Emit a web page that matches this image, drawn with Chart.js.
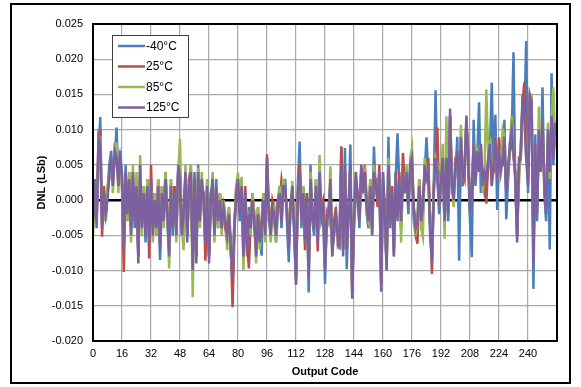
<!DOCTYPE html>
<html><head><meta charset="utf-8">
<script src="https://cdn.jsdelivr.net/npm/chart.js@4"></script>
<style>html,body{margin:0;padding:0;background:#fff;}#wrap{width:581px;height:387px;}</style>
</head><body><div id="wrap"><canvas id="c" width="581" height="387"></canvas></div>
<script>
const seriesNames = ['-40°C','25°C','85°C','125°C'];
const seriesColors = ['#4a7ebb','#be4b48','#98b954','#7d60a0'];
const yTicks = [-0.020,-0.015,-0.010,-0.005,0.000,0.005,0.010,0.015,0.020,0.025];
const xTicks = [0,16,32,48,64,80,96,112,128,144,160,176,192,208,224,240];

const dnlM40 = [
-0.004,0.003,-0.003,0.006,0.0118,-0.003,0.000,-0.003,0.001,0.005,0.007,0.003,0.006,0.0103,0.003,0.006,
0.004,-0.006,0.005,-0.003,0.002,-0.004,0.003,-0.004,0.003,-0.008,0.004,-0.003,0.002,-0.006,0.001,-0.005,
0.002,-0.004,0.001,-0.005,0.001,-0.0085,0.000,-0.002,0.002,-0.003,-0.007,0.001,-0.005,0.002,-0.004,0.004,
0.004,-0.004,-0.003,0.003,-0.005,0.003,0.003,-0.009,0.004,-0.008,0.005,-0.002,0.002,0.001,-0.005,0.003,
-0.008,0.001,0.002,-0.004,0.003,-0.004,0.001,-0.003,-0.002,-0.004,-0.004,-0.003,-0.006,-0.012,-0.003,0.000,
0.002,-0.003,0.003,-0.007,0.000,-0.008,-0.001,-0.003,0.001,-0.004,-0.007,-0.003,-0.005,-0.0079,0.001,-0.004,
0.005,-0.003,-0.004,0.000,-0.003,-0.006,0.000,0.002,-0.004,0.001,0.003,-0.003,-0.0088,0.000,0.001,-0.005,
-0.011,0.002,0.0083,-0.004,0.002,-0.005,0.001,-0.0131,0.005,-0.003,-0.005,0.003,-0.005,0.003,-0.003,-0.002,
-0.0119,-0.002,-0.003,0.002,-0.007,-0.005,-0.003,-0.004,-0.007,0.0076,-0.007,0.0074,-0.0098,-0.001,0.0079,-0.013,
-0.004,0.003,0.001,-0.004,0.004,0.003,0.003,-0.002,-0.004,0.001,-0.004,0.0076,0.001,0.001,0.003,-0.012,
0.003,-0.003,-0.009,0.009,-0.004,0.002,-0.007,0.003,0.0095,0.002,-0.004,0.003,0.002,0.003,-0.002,0.004,
0.005,-0.003,-0.005,-0.004,0.001,-0.002,-0.002,0.004,0.0089,0.003,-0.005,-0.008,0.002,0.0156,0.003,-0.002,
0.002,0.005,-0.004,0.005,-0.003,0.012,0.001,0.001,0.004,0.009,-0.0086,0.008,0.002,0.005,0.011,0.005,
-0.003,-0.0081,0.0114,0.002,0.006,0.0139,0.001,0.003,0.001,0.002,0.005,0.007,0.0167,0.004,0.0121,-0.0014,
0.006,0.005,0.005,0.0114,-0.0027,0.003,0.007,0.009,0.021,0.002,-0.005,0.004,0.006,0.014,0.011,0.0226,
0.001,0.014,0.013,-0.0126,0.0093,-0.003,0.009,0.005,0.016,0.001,-0.003,0.009,-0.007,0.018,0.005,0.010];

const dnl25 = [
-0.002,0.001,-0.003,0.008,0.010,-0.0052,0.002,-0.001,0.001,0.003,0.005,0.003,0.006,0.007,0.003,0.006,
0.002,-0.0102,0.003,-0.001,0.004,-0.004,0.003,-0.002,0.001,-0.008,0.004,-0.003,0.000,-0.004,0.003,-0.0083,
0.005,-0.004,0.001,-0.003,0.003,-0.006,0.002,-0.002,0.004,-0.001,-0.007,0.003,-0.003,0.002,-0.004,0.004,
0.002,-0.004,-0.001,0.003,-0.005,0.003,0.0048,-0.009,0.002,-0.008,0.003,-0.002,0.002,0.001,-0.0086,0.001,
-0.008,0.001,0.002,-0.004,0.001,-0.002,0.001,-0.003,0.000,-0.004,-0.006,-0.001,-0.006,-0.0152,-0.005,0.002,
0.002,-0.001,0.001,-0.007,0.002,-0.006,-0.0097,-0.003,0.001,-0.002,-0.007,-0.001,-0.005,-0.003,0.001,-0.004,
0.0065,-0.001,-0.004,0.000,-0.001,-0.004,0.000,0.000,0.0029,0.001,0.001,-0.001,-0.006,0.000,0.001,-0.003,
-0.011,0.000,0.005,-0.002,0.000,-0.0071,0.001,-0.010,0.002,-0.001,-0.003,0.001,-0.0073,0.003,-0.001,0.000,
-0.009,-0.002,-0.001,0.002,-0.007,-0.003,-0.001,-0.006,-0.005,0.0076,-0.007,0.004,-0.006,-0.001,0.004,-0.013,
-0.002,0.003,0.001,-0.002,0.004,0.001,0.005,0.000,-0.002,0.003,-0.004,0.003,0.003,-0.001,0.005,-0.012,
0.003,-0.001,-0.009,0.004,-0.002,0.002,-0.007,0.003,-0.002,0.004,-0.002,0.0067,0.002,0.003,0.000,0.004,
0.005,-0.001,-0.003,-0.0062,0.003,-0.002,0.000,0.004,0.004,0.006,-0.003,-0.0105,0.002,0.005,0.0103,0.000,
0.004,0.005,-0.002,0.005,-0.001,0.012,0.003,0.001,0.006,0.006,0.003,0.008,0.004,0.003,0.011,0.007,
-0.001,0.002,0.007,0.004,0.006,0.005,0.007,0.003,0.003,-0.0005,0.005,0.007,0.003,0.004,0.008,0.004,
0.0089,0.005,0.005,0.008,0.002,0.005,0.007,0.009,0.006,0.004,-0.005,0.006,0.006,0.014,0.0167,0.007,
0.003,0.014,0.013,-0.008,0.007,-0.001,0.009,0.005,0.010,0.003,-0.001,0.009,0.005,0.011,0.007,0.010];

const dnl85 = [
-0.005,0.001,-0.002,0.007,0.009,-0.003,0.000,-0.003,0.002,0.003,0.006,0.001,0.008,0.008,0.001,0.006,
0.002,-0.006,0.003,-0.003,0.004,-0.006,0.005,-0.002,0.004,-0.007,0.0064,-0.005,0.002,-0.004,0.003,-0.005,
0.002,-0.006,0.001,-0.005,0.003,-0.006,0.002,-0.004,0.004,-0.001,-0.0097,0.003,-0.003,0.000,-0.006,0.004,
0.0087,-0.004,-0.0071,0.005,-0.005,0.001,0.005,-0.0138,0.002,-0.007,0.0046,-0.004,0.004,-0.001,-0.005,0.003,
-0.007,-0.001,0.004,-0.006,0.001,-0.004,0.001,-0.005,0.000,-0.002,-0.0071,-0.001,-0.008,-0.010,-0.003,0.002,
0.0039,-0.001,0.0033,-0.010,0.001,-0.006,-0.003,-0.005,0.001,-0.002,-0.009,-0.001,-0.007,-0.004,0.001,-0.006,
0.005,-0.001,-0.006,-0.002,-0.001,-0.006,-0.002,0.002,-0.002,0.003,0.001,-0.001,-0.006,-0.002,0.0027,-0.004,
-0.012,0.002,0.003,-0.003,0.002,-0.006,-0.0036,-0.010,0.004,-0.001,-0.004,0.003,-0.005,0.0064,-0.002,-0.002,
-0.009,-0.004,-0.002,0.0048,-0.008,-0.004,-0.003,-0.005,-0.006,0.004,-0.007,0.004,-0.007,-0.003,0.004,-0.012,
-0.003,0.004,-0.001,-0.003,0.005,0.003,0.004,-0.002,-0.003,0.003,-0.005,0.005,0.001,0.001,0.004,-0.011,
0.004,-0.003,-0.010,0.006,-0.002,0.001,-0.008,0.004,-0.002,0.003,-0.006,0.004,0.002,0.005,-0.001,0.006,
0.0074,-0.002,-0.005,-0.002,0.003,-0.004,-0.0052,0.006,0.004,0.004,-0.003,-0.009,0.001,0.006,0.005,-0.001,
0.004,0.008,-0.0055,0.0119,-0.002,0.012,0.002,-0.001,0.005,0.007,0.002,0.0107,0.003,0.004,0.011,0.006,
-0.001,0.002,0.008,0.003,0.007,0.006,0.008,0.001,0.004,0.0157,0.007,0.008,0.002,0.006,0.009,0.003,
0.007,0.005,0.010,0.009,0.002,0.003,0.008,0.0119,0.007,0.003,-0.004,0.002,0.008,0.013,0.012,0.006,
0.005,0.013,0.014,-0.006,0.008,-0.001,0.0133,0.004,0.011,0.003,-0.001,0.011,0.003,0.012,0.016,0.008];

const dnl125 = [
-0.003,0.002,-0.004,0.009,0.008,-0.004,0.001,-0.002,0.000,0.004,0.006,0.002,0.007,0.006,0.002,0.007,
0.003,-0.007,0.004,-0.002,0.003,-0.005,0.004,-0.003,0.002,-0.009,0.005,-0.004,0.001,-0.005,0.002,-0.006,
0.003,-0.005,0.000,-0.004,0.002,-0.007,0.001,-0.003,0.003,-0.002,-0.008,0.002,-0.004,0.001,-0.005,0.005,
0.003,-0.005,-0.002,0.004,-0.006,0.002,0.004,-0.010,0.003,-0.009,0.004,-0.003,0.003,0.000,-0.006,0.002,
-0.009,0.000,0.003,-0.005,0.002,-0.003,0.000,-0.004,-0.001,-0.003,-0.005,-0.002,-0.007,-0.011,-0.004,0.001,
0.003,-0.002,0.002,-0.008,0.001,-0.007,-0.002,-0.004,0.000,-0.003,-0.008,-0.002,-0.006,-0.004,0.000,-0.005,
0.006,-0.002,-0.005,-0.001,-0.002,-0.005,-0.001,0.001,-0.003,0.002,0.002,-0.002,-0.007,-0.001,0.002,-0.004,
-0.012,0.001,0.004,-0.003,0.001,-0.006,0.000,-0.011,0.003,-0.002,-0.004,0.002,-0.006,0.004,-0.002,-0.001,
-0.010,-0.003,-0.002,0.003,-0.008,-0.004,-0.002,-0.005,-0.006,0.005,-0.008,0.005,-0.007,-0.002,0.005,-0.014,
-0.003,0.004,0.000,-0.003,0.005,0.002,0.004,-0.001,-0.003,0.002,-0.005,0.004,0.002,0.000,0.004,-0.013,
0.004,-0.002,-0.010,0.005,-0.003,0.001,-0.008,0.004,-0.003,0.003,-0.003,0.004,0.001,0.004,-0.001,0.005,
0.006,-0.002,-0.004,-0.003,0.002,-0.003,-0.001,0.005,0.003,0.004,-0.004,-0.009,0.001,0.006,0.004,-0.001,
0.003,0.006,-0.003,0.006,-0.002,0.013,0.002,0.000,0.005,0.007,0.002,0.009,0.003,0.004,0.012,0.006,
-0.002,0.001,0.008,0.003,0.007,0.004,0.008,0.002,0.004,0.003,0.006,0.008,0.002,0.005,0.009,0.003,
0.007,0.004,0.006,0.009,0.001,0.004,0.008,0.010,0.007,0.003,-0.006,0.005,0.007,0.015,0.012,0.006,
0.002,0.015,0.014,-0.009,0.008,-0.002,0.010,0.004,0.011,0.002,-0.002,0.010,0.004,0.012,0.006,0.011];

const seriesValues = [dnlM40, dnl25, dnl85, dnl125];
const codes = dnl125.map((_, i) => i);

const FONT = "'Liberation Sans', Arial, sans-serif";

const framePlugin = {
  id: 'frame',
  afterDraw(chart) {
    const ctx = chart.ctx, a = chart.chartArea;
    ctx.save();
    ctx.strokeStyle = '#000';
    ctx.lineWidth = 2;
    ctx.strokeRect(a.left, a.top, a.right - a.left, a.bottom - a.top);
    ctx.strokeRect(11, 4, 559, 379);
    // legend
    const lx = 112, ly = 35, lw = 76, lh = 82;
    ctx.fillStyle = '#fff';
    ctx.fillRect(lx, ly, lw, lh);
    ctx.strokeStyle = '#404040';
    ctx.lineWidth = 1;
    ctx.strokeRect(lx + 0.5, ly + 0.5, lw, lh);
    ctx.font = '12px ' + FONT;
    ctx.textBaseline = 'middle';
    chart.data.datasets.forEach((ds, i) => {
      const y = ly + 11 + i * 20.5;
      ctx.strokeStyle = ds.borderColor;
      ctx.lineWidth = 2.5;
      ctx.beginPath();
      ctx.moveTo(lx + 6, y);
      ctx.lineTo(lx + 33, y);
      ctx.stroke();
      ctx.fillStyle = '#000';
      ctx.fillText(ds.label, lx + 34, y + 0.5);
    });
    ctx.restore();
  }
};

new Chart(document.getElementById('c'), {
  type: 'line',
  data: {
    datasets: seriesNames.map((name, s) => ({
      label: name,
      data: codes.map((c, i) => ({x: c, y: seriesValues[s][i]})),
      borderColor: seriesColors[s],
      backgroundColor: seriesColors[s],
      borderWidth: 2.5,
      pointRadius: 0,
      tension: 0,
      fill: false,
      order: 4 - s
    }))
  },
  options: {
    responsive: false,
    animation: false,
    devicePixelRatio: 1,
    layout: {padding: {left: 0, top: 24, right: 24, bottom: 0}},
    plugins: {legend: {display: false}, tooltip: {enabled: false}},
    scales: {
      x: {
        type: 'linear', min: 0, max: 256,
        afterFit: s => { s.height = 46; },
        afterBuildTicks: s => { s.ticks = xTicks.concat([256]).map(v => ({value: v})); },
        ticks: {
          padding: 6, color: '#000', font: {family: FONT, size: 11},
          maxRotation: 0, autoSkip: false,
          callback: v => (xTicks.includes(v) ? String(v) : '')
        },
        grid: {color: '#a8a8a8', lineWidth: 1.2, drawTicks: false},
        border: {display: false},
        title: {display: true, text: 'Output Code', color: '#000',
                font: {family: FONT, size: 11, weight: 'bold'}, padding: {top: 0, bottom: 8}}
      },
      y: {
        min: -0.02, max: 0.025,
        afterFit: s => { s.width = 93; },
        afterBuildTicks: s => { s.ticks = yTicks.map(v => ({value: v})); },
        ticks: {
          padding: 10, color: '#000', font: {family: FONT, size: 11},
          callback: v => v.toFixed(3)
        },
        grid: {
          drawTicks: false,
          color: c => (Math.abs(c.tick.value) < 1e-9 ? '#000' : '#a8a8a8'),
          lineWidth: c => (Math.abs(c.tick.value) < 1e-9 ? 2.5 : 1.2)
        },
        border: {display: false},
        title: {display: true, text: 'DNL (LSb)', color: '#000',
                font: {family: FONT, size: 11, weight: 'bold'}, padding: {top: 35, bottom: 0}}
      }
    }
  },
  plugins: [framePlugin]
});
</script>
</body></html>
